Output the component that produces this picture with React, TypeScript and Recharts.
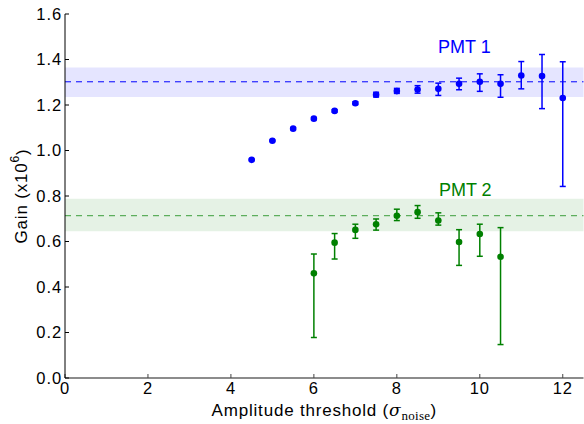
import React from 'react';
import {
  ComposedChart,
  Scatter,
  XAxis,
  YAxis,
  ErrorBar,
  ReferenceArea,
  ReferenceLine,
  ReferenceDot,
} from 'recharts';

// PMT 1 (blue)
const pmt1Thresholds = [4.5, 5, 5.5, 6, 6.5, 7, 7.5, 8, 8.5, 9, 9.5, 10, 10.5, 11, 11.5, 12];
const pmt1Gain = [0.959, 1.043, 1.096, 1.14, 1.174, 1.208, 1.245, 1.261, 1.268, 1.271, 1.293, 1.302, 1.293, 1.33, 1.327, 1.231];
const pmt1ErrLow = [0.003, 0.003, 0.004, 0.004, 0.005, 0.006, 0.01, 0.01, 0.016, 0.029, 0.026, 0.042, 0.059, 0.059, 0.143, 0.389];
const pmt1ErrHigh = [0.003, 0.003, 0.004, 0.004, 0.005, 0.006, 0.011, 0.012, 0.017, 0.025, 0.025, 0.035, 0.04, 0.061, 0.095, 0.159];

// PMT 2 (green)
const pmt2Thresholds = [6, 6.5, 7, 7.5, 8, 8.5, 9, 9.5, 10, 10.5];
const pmt2Gain = [0.46, 0.595, 0.651, 0.676, 0.713, 0.729, 0.692, 0.598, 0.633, 0.533];
const pmt2ErrLow = [0.282, 0.072, 0.037, 0.026, 0.021, 0.027, 0.02, 0.103, 0.098, 0.386];
const pmt2ErrHigh = [0.085, 0.04, 0.025, 0.023, 0.029, 0.029, 0.034, 0.054, 0.043, 0.128];

// Mean gains and bands
const pmt1Mean = 1.302;
const pmt1Band = [1.235, 1.365];
const pmt2Mean = 0.714;
const pmt2Band = [0.645, 0.788];

// Labels
const pmt1Label = { text: 'PMT 1', x: 9.63, y: 1.458 };
const pmt2Label = { text: 'PMT 2', x: 9.65, y: 0.827 };

const xTicks = [0, 2, 4, 6, 8, 10, 12];
const yTicks = [0, 0.2, 0.4, 0.6, 0.8, 1.0, 1.2, 1.4, 1.6];

const BLUE = '#0000ff';
const GREEN = '#008000';
const FONT = '"Liberation Sans", Arial, sans-serif';

const pmt1Data = pmt1Thresholds.map((x, i) => ({ x, y: pmt1Gain[i], err: [pmt1ErrLow[i], pmt1ErrHigh[i]] }));
const pmt2Data = pmt2Thresholds.map((x, i) => ({ x, y: pmt2Gain[i], err: [pmt2ErrLow[i], pmt2ErrHigh[i]] }));

const dot = (color: string) => (p: any) => <circle cx={p.cx} cy={p.cy} r={3.3} fill={color} />;

const YLabel = (props: any) => {
  const vb = props.viewBox || { x: 0, y: 14, width: 65, height: 364 };
  const cx = vb.x + 21.5;
  const cy = vb.y + vb.height / 2;
  return (
    <text
      x={cx}
      y={cy}
      transform={`rotate(-90, ${cx}, ${cy})`}
      textAnchor="middle"
      dominantBaseline="central"
      fontFamily={FONT}
      fontSize={17}
      letterSpacing={0.8}
      fill="#000"
    >
      Gain (x10
      <tspan dy={-7} fontSize={12}>6</tspan>
      <tspan dy={7}>)</tspan>
    </text>
  );
};

const XLabel = (props: any) => {
  const vb = props.viewBox || { x: 65, y: 378, width: 518, height: 46 };
  const cx = vb.x + vb.width / 2;
  const y = vb.y + 38;
  return (
    <text x={cx} y={y} textAnchor="middle" fontFamily={FONT} fontSize={17} letterSpacing={0.8} fill="#000">
      Amplitude threshold (
      <tspan fontFamily='"DejaVu Serif", "Liberation Serif", serif' fontStyle="italic">σ</tspan>
      <tspan dy={4} fontSize={13} letterSpacing={0.3} fontFamily='"Liberation Serif", serif'>noise</tspan>
      <tspan dy={-4}>)</tspan>
    </text>
  );
};

const tickStyle = { fill: '#000', fontSize: 16.5, fontFamily: FONT, letterSpacing: 0.9 };

export default function App() {
  return (
    <div style={{ position: 'absolute', left: 0, top: 0 }}>
      <ComposedChart
        width={584}
        height={424}
        margin={{ top: 14, right: 0.5, bottom: 0, left: 0 }}
        style={{ fontFamily: FONT }}
      >
        <XAxis
          xAxisId={0}
          dataKey="x"
          type="number"
          domain={[0, 12.5]}
          ticks={xTicks}
          height={46}
          tickSize={-4}
          tickMargin={8}
          axisLine={{ stroke: '#666', strokeWidth: 1.6 }}
          tickLine={{ stroke: '#444' }}
          tick={tickStyle}
          label={<XLabel />}
          allowDataOverflow
        />
        <XAxis
          xAxisId="top"
          orientation="top"
          dataKey="x"
          type="number"
          domain={[0, 12.5]}
          ticks={xTicks}
          height={0}
          tickSize={-4}
          tickFormatter={() => ''}
          axisLine={{ stroke: '#000' }}
          tickLine={{ stroke: '#000' }}
          allowDataOverflow
        />
        <YAxis
          yAxisId={0}
          type="number"
          domain={[0, 1.6]}
          ticks={yTicks}
          width={65}
          tickSize={-4}
          tickMargin={7}
          tickFormatter={(v: number) => v.toFixed(1)}
          axisLine={{ stroke: '#000' }}
          tickLine={{ stroke: '#000' }}
          tick={tickStyle}
          label={<YLabel />}
          allowDataOverflow
        />
        <YAxis
          yAxisId="right"
          orientation="right"
          type="number"
          domain={[0, 1.6]}
          ticks={yTicks}
          width={0}
          tickSize={-4}
          tickFormatter={() => ''}
          axisLine={{ stroke: '#000' }}
          tickLine={{ stroke: '#000' }}
          allowDataOverflow
        />
        <ReferenceArea y1={pmt1Band[0]} y2={pmt1Band[1]} fill={BLUE} fillOpacity={0.1} stroke="none" />
        <ReferenceArea y1={pmt2Band[0]} y2={pmt2Band[1]} fill={GREEN} fillOpacity={0.1} stroke="none" />
        <ReferenceLine y={pmt1Mean} stroke={BLUE} strokeDasharray="6 5" strokeWidth={1} />
        <ReferenceLine y={pmt2Mean} stroke={GREEN} strokeOpacity={0.6} strokeDasharray="6 5" strokeWidth={1.3} />
        <ReferenceDot
          x={pmt1Label.x}
          y={pmt1Label.y}
          r={0}
          fill="none"
          stroke="none"
          label={{ value: pmt1Label.text, position: 'center', fill: BLUE, fontSize: 18, fontFamily: FONT }}
        />
        <ReferenceDot
          x={pmt2Label.x}
          y={pmt2Label.y}
          r={0}
          fill="none"
          stroke="none"
          label={{ value: pmt2Label.text, position: 'center', fill: GREEN, fontSize: 18, fontFamily: FONT }}
        />
        <Scatter data={pmt1Data} dataKey="y" fill={BLUE} shape={dot(BLUE)} isAnimationActive={false}>
          <ErrorBar dataKey="err" direction="y" width={3} stroke={BLUE} strokeWidth={1.5} isAnimationActive={false} />
        </Scatter>
        <Scatter data={pmt2Data} dataKey="y" fill={GREEN} shape={dot(GREEN)} isAnimationActive={false}>
          <ErrorBar dataKey="err" direction="y" width={3} stroke={GREEN} strokeWidth={1.5} isAnimationActive={false} />
        </Scatter>
      </ComposedChart>
    </div>
  );
}
